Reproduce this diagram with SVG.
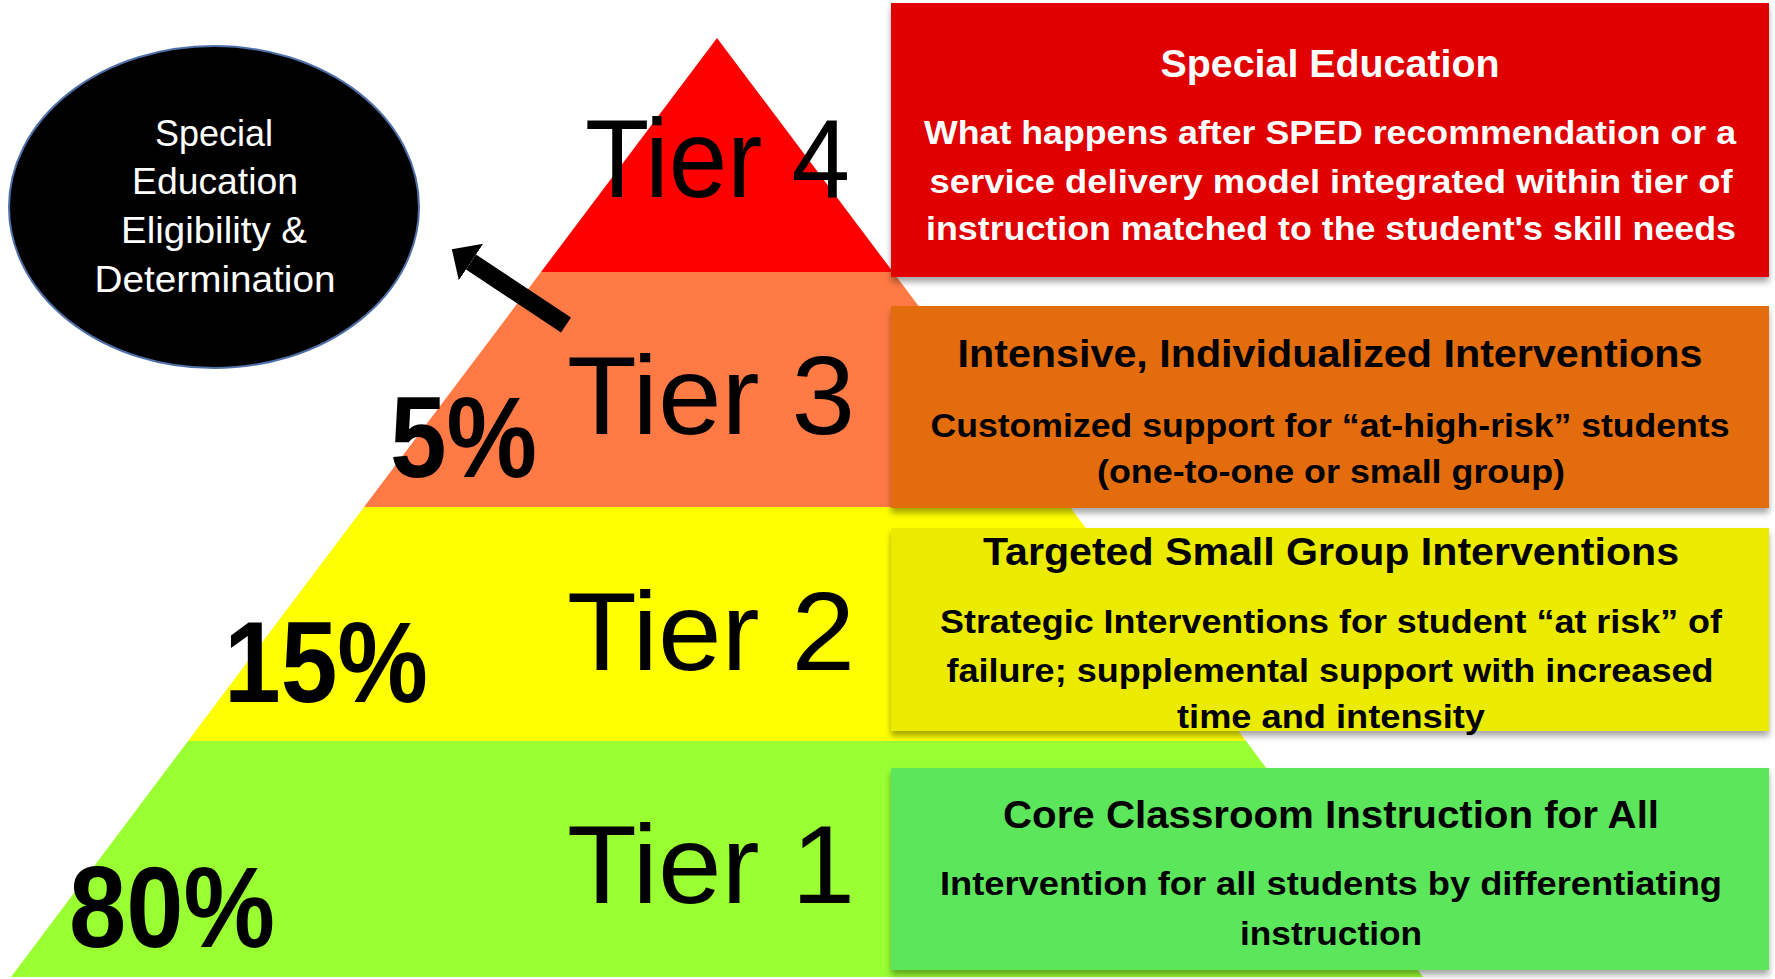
<svg xmlns="http://www.w3.org/2000/svg" width="1775" height="979" viewBox="0 0 1775 979">
  <defs>
    <filter id="shadow" x="-5%" y="-10%" width="110%" height="130%">
      <feDropShadow dx="0" dy="5" stdDeviation="3" flood-color="#000" flood-opacity="0.35"/>
    </filter>
    <marker id="head" markerUnits="userSpaceOnUse" markerWidth="30" markerHeight="50" refX="0" refY="22" orient="auto" viewBox="0 0 30 44">
      <path d="M0,0 L23,22 L0,44 Z" fill="#000"/>
    </marker>
  </defs>
  <style>
    .tier { font-family: "Liberation Sans", Arial, sans-serif; font-size: 112px; fill: #000; }
    .pct { font-family: "Liberation Sans", Arial, sans-serif; font-size: 115px; font-weight: bold; fill: #000; }
    .ell { font-family: "Liberation Sans", Arial, sans-serif; font-size: 36px; fill: #fff; text-anchor: middle; }
    .title { font-family: "Liberation Sans", Arial, sans-serif; font-size: 38px; font-weight: bold; text-anchor: middle; }
    .body { font-family: "Liberation Sans", Arial, sans-serif; font-size: 34px; font-weight: bold; text-anchor: middle; }
    .box { filter: url(#shadow); }
  </style>
  <rect width="1775" height="979" fill="#fff"/>

  <g id="pyramid">
    <polygon id="tier4-band" points="717,38 541,272 893,272" fill="#FF0000"/>
    <polygon id="tier3-band" points="541,272 893,272 1070,507 364,507" fill="#FF7A45"/>
    <polygon id="tier2-band" points="364,507 1070,507 1246,741 188,741" fill="#FFFF00"/>
    <polygon id="tier1-band" points="188,741 1246,741 1423,977 11,977" fill="#99FF33"/>
    <text class="tier" x="585" y="197" font-size="106" textLength="265" lengthAdjust="spacingAndGlyphs">Tier 4</text>
    <text class="tier" x="567" y="434" textLength="288" lengthAdjust="spacingAndGlyphs">Tier 3</text>
    <text class="tier" x="567" y="670" textLength="288" lengthAdjust="spacingAndGlyphs">Tier 2</text>
    <text class="tier" x="567" y="903" textLength="288" lengthAdjust="spacingAndGlyphs">Tier 1</text>
    <text class="pct" x="390" y="477" textLength="147" lengthAdjust="spacingAndGlyphs">5%</text>
    <text class="pct" x="224" y="702" textLength="204" lengthAdjust="spacingAndGlyphs">15%</text>
    <text class="pct" x="69" y="947" textLength="206" lengthAdjust="spacingAndGlyphs">80%</text>
  </g>

  <g id="eligibility">
    <ellipse cx="214" cy="207" rx="205" ry="161" fill="#000" stroke="#4F6FA8" stroke-width="2"/>
    <text class="ell" x="214" y="146" textLength="118" lengthAdjust="spacingAndGlyphs">Special</text>
    <text class="ell" x="215" y="194" textLength="166" lengthAdjust="spacingAndGlyphs">Education</text>
    <text class="ell" x="214" y="243" textLength="186" lengthAdjust="spacingAndGlyphs">Eligibility &amp;</text>
    <text class="ell" x="215" y="292" textLength="241" lengthAdjust="spacingAndGlyphs">Determination</text>
  </g>

  <g id="connectors">
    <line x1="566" y1="325" x2="471" y2="262" stroke="#000" stroke-width="18" marker-end="url(#head)"/>
  </g>

  <g id="box-tier4">
    <rect class="box" x="891" y="3" width="878" height="274" fill="#E10000"/>
    <text class="title" x="1330" y="77" fill="#fff" textLength="339" lengthAdjust="spacingAndGlyphs">Special Education</text>
    <text class="body" x="1330" y="144" fill="#fff" textLength="812" lengthAdjust="spacingAndGlyphs">What happens after SPED recommendation or a</text>
    <text class="body" x="1331" y="193" fill="#fff" textLength="803" lengthAdjust="spacingAndGlyphs">service delivery model integrated within tier of</text>
    <text class="body" x="1331" y="240" fill="#fff" textLength="810" lengthAdjust="spacingAndGlyphs">instruction matched to the student's skill needs</text>
  </g>

  <g id="box-tier3">
    <rect class="box" x="891" y="306" width="878" height="202" fill="#E36C0A"/>
    <text class="title" x="1330" y="367" fill="#000" textLength="745" lengthAdjust="spacingAndGlyphs">Intensive, Individualized Interventions</text>
    <text class="body" x="1330" y="437" fill="#000" textLength="799" lengthAdjust="spacingAndGlyphs">Customized support for “at-high-risk” students</text>
    <text class="body" x="1331" y="483" fill="#000" textLength="468" lengthAdjust="spacingAndGlyphs">(one-to-one or small group)</text>
  </g>

  <g id="box-tier2">
    <rect class="box" x="891" y="528" width="878" height="203" fill="#EBEB00"/>
    <text class="title" x="1331" y="565" fill="#000" textLength="696" lengthAdjust="spacingAndGlyphs">Targeted Small Group Interventions</text>
    <text class="body" x="1331" y="633" fill="#000" textLength="782" lengthAdjust="spacingAndGlyphs">Strategic Interventions for student “at risk” of</text>
    <text class="body" x="1330" y="682" fill="#000" textLength="767" lengthAdjust="spacingAndGlyphs">failure; supplemental support with increased</text>
    <text class="body" x="1331" y="728" fill="#000" textLength="308" lengthAdjust="spacingAndGlyphs">time and intensity</text>
  </g>

  <g id="box-tier1">
    <rect class="box" x="891" y="768" width="878" height="202" fill="#5CE65C"/>
    <text class="title" x="1331" y="828" fill="#000" textLength="656" lengthAdjust="spacingAndGlyphs">Core Classroom Instruction for All</text>
    <text class="body" x="1331" y="895" fill="#000" textLength="782" lengthAdjust="spacingAndGlyphs">Intervention for all students by differentiating</text>
    <text class="body" x="1331" y="945" fill="#000" textLength="182" lengthAdjust="spacingAndGlyphs">instruction</text>
  </g>
</svg>
